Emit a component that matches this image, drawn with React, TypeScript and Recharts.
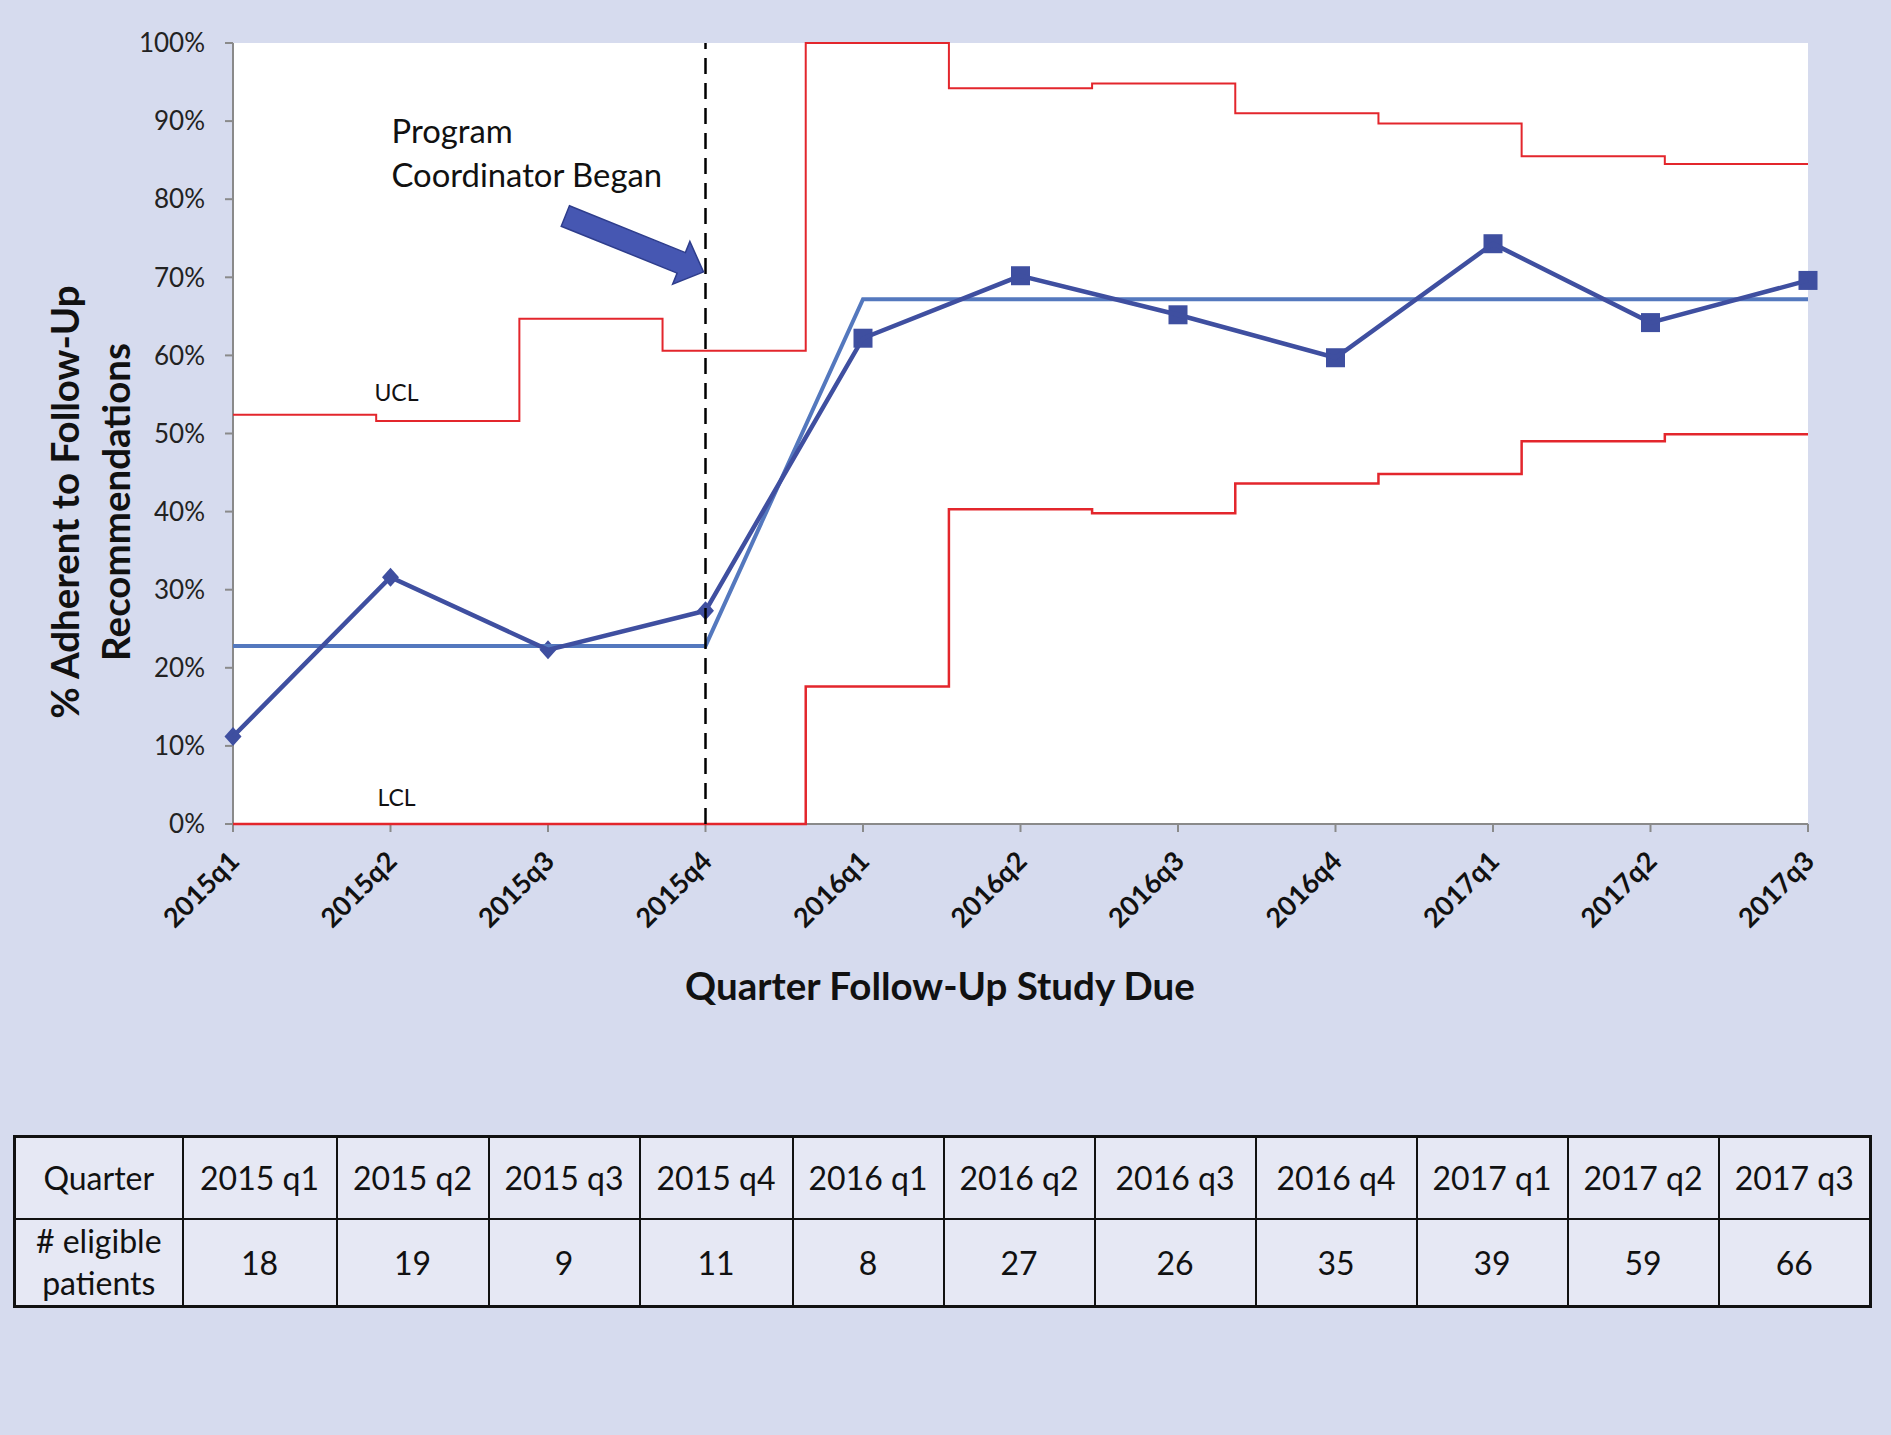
import React from 'react';
import {
  ComposedChart,
  Line,
  XAxis,
  YAxis,
  CartesianGrid,
  ReferenceLine,
  ReferenceDot,
} from 'recharts';

// ---------- data ----------
const quarters = ['2015q1', '2015q2', '2015q3', '2015q4', '2016q1', '2016q2', '2016q3', '2016q4', '2017q1', '2017q2', '2017q3'];
const adherence = [11.2, 31.6, 22.3, 27.3, 62.2, 70.2, 65.2, 59.7, 74.3, 64.2, 69.6];
const centerLine = [22.8, 22.8, 22.8, 22.8, 67.2, 67.2, 67.2, 67.2, 67.2, 67.2, 67.2];
const upperLimit = [52.4, 51.6, 64.7, 60.6, 100, 94.2, 94.8, 91.0, 89.7, 85.5, 84.5];
const lowerLimit = [0, 0, 0, 0, 17.6, 40.3, 39.8, 43.6, 44.8, 49.0, 49.9];
const yTicks = [0, 10, 20, 30, 40, 50, 60, 70, 80, 90, 100];
const tableQuarters = ['2015 q1', '2015 q2', '2015 q3', '2015 q4', '2016 q1', '2016 q2', '2016 q3', '2016 q4', '2017 q1', '2017 q2', '2017 q3'];
const eligiblePatients = [18, 19, 9, 11, 8, 27, 26, 35, 39, 59, 66];
const coordinatorStartIndex = 3;
const arrowTargetValue = 70.7;
const uclLabelValue = 54.1;
const lclLabelValue = 2.3;

const pointData = quarters.map((q, i) => ({ x: i, label: q, adherence: adherence[i], center: centerLine[i] }));
const lastIdx = upperLimit.length - 1;
const limitData = [
  ...upperLimit.map((u, k) => ({ b: k, ucl: u, lcl: lowerLimit[k] })),
  { b: upperLimit.length, ucl: upperLimit[lastIdx], lcl: lowerLimit[lastIdx] },
];
const xTicks = quarters.map((_, i) => i);

// ---------- style ----------
const FONT = 'Lato, "Open Sans", sans-serif';
const BG = '#D6DBEE';
const CELL_BG = '#E6E8F4';
const DARK_BLUE = '#3F4FA0';
const CL_BLUE = '#5478BE';
const RED = '#E3262C';
const AXIS_GRAY = '#8A8A8A';
const colWidths = [168, 154, 152, 151, 153, 151, 151, 161, 161, 151, 151, 152];

const XTick = (props: any) => {
  const { x, y, payload } = props;
  const ax = x + 8;
  const ay = y + 31;
  return (
    <text
      x={ax}
      y={ay}
      transform={`rotate(-45 ${ax} ${ay})`}
      textAnchor="end"
      fontFamily={FONT}
      fontWeight={700}
      fontSize={27}
      fill="#111"
    >
      {quarters[payload.value]}
    </text>
  );
};

const YTitle = (props: any) => {
  const vb = props.viewBox || { x: 0, y: 43, width: 233, height: 781 };
  const cy = vb.y + 459;
  const x1 = vb.x + 64;
  const x2 = vb.x + 115;
  const common = {
    textAnchor: 'middle' as const,
    dominantBaseline: 'central' as const,
    fontFamily: FONT,
    fontWeight: 700,
    fontSize: 38.5,
    fill: '#111',
  };
  return (
    <g>
      <text x={x1} y={cy} transform={`rotate(-90 ${x1} ${cy})`} {...common}>
        % Adherent to Follow-Up
      </text>
      <text x={x2} y={cy} transform={`rotate(-90 ${x2} ${cy})`} {...common}>
        Recommendations
      </text>
    </g>
  );
};

const XTitle = (props: any) => {
  const vb = props.viewBox || { x: 233, y: 824, width: 1575, height: 236 };
  return (
    <text
      x={vb.x + 707}
      y={vb.y + 176}
      textAnchor="middle"
      fontFamily={FONT}
      fontWeight={700}
      fontSize={38.5}
      fill="#111"
    >
      Quarter Follow-Up Study Due
    </text>
  );
};

const renderMarker = (props: any) => {
  const { cx, cy, index } = props;
  if (cx == null || cy == null) return <g key={`m-${index}`} />;
  if (index <= coordinatorStartIndex) {
    return (
      <polygon
        key={`m-${index}`}
        points={`${cx},${cy - 9.5} ${cx + 8.5},${cy} ${cx},${cy + 9.5} ${cx - 8.5},${cy}`}
        fill={DARK_BLUE}
      />
    );
  }
  return <rect key={`m-${index}`} x={cx - 9.5} y={cy - 9.5} width={19} height={19} fill={DARK_BLUE} />;
};

const ArrowShape = (props: any) => {
  const { cx, cy } = props;
  if (cx == null || cy == null) return <g />;
  const tx = cx - 2;
  const pts = '0,0 -24,-23 -24,-11 -149,-11 -149,11 -24,11 -24,23';
  return (
    <g>
      <polygon
        points={pts}
        transform={`translate(${tx} ${cy}) rotate(22)`}
        fill="#4657B2"
        stroke="#2E3D8C"
        strokeWidth={1.5}
      />
      <text x={cx - 314} y={cy - 129} fontFamily={FONT} fontSize={32.8} fill="#111">
        Program
      </text>
      <text x={cx - 314} y={cy - 85} fontFamily={FONT} fontSize={32.8} fill="#111">
        Coordinator Began
      </text>
    </g>
  );
};

const makeTextShape = (txt: string) => (props: any) => {
  const { cx, cy } = props;
  if (cx == null || cy == null) return <g />;
  return (
    <text x={cx + 6} y={cy} textAnchor="middle" fontFamily={FONT} fontSize={23} fill="#111">
      {txt}
    </text>
  );
};

const cellStyle: React.CSSProperties = {
  border: '2px solid #111',
  background: CELL_BG,
  textAlign: 'center',
  verticalAlign: 'middle',
  fontFamily: FONT,
  fontSize: 32,
  color: '#111',
  padding: 0,
};

export default function App() {
  return (
    <div
      style={{
        position: 'absolute',
        left: 0,
        top: 0,
        width: 1891,
        height: 1435,
        background: BG,
        overflow: 'hidden',
      }}
    >
      <div style={{ position: 'absolute', left: 0, top: 0 }}>
        <ComposedChart width={1891} height={1060} margin={{ top: 43, right: 83, left: 0, bottom: 0 }}>
          <CartesianGrid xAxisId="q" fill="#ffffff" horizontal={false} vertical={false} />
          <XAxis
            xAxisId="q"
            type="number"
            dataKey="x"
            domain={[0, 10]}
            ticks={xTicks}
            interval={0}
            tick={<XTick />}
            tickSize={8}
            tickMargin={0}
            tickLine={{ stroke: AXIS_GRAY, strokeWidth: 2 }}
            axisLine={{ stroke: AXIS_GRAY, strokeWidth: 2 }}
            height={236}
            label={<XTitle />}
          />
          <XAxis xAxisId="b" type="number" dataKey="b" domain={[0, 11]} hide height={0} />
          <YAxis
            type="number"
            domain={[0, 100]}
            ticks={yTicks}
            interval={0}
            tickFormatter={(v: number) => `${v}%`}
            tick={{ fontFamily: FONT, fontSize: 26, fill: '#222' }}
            tickSize={8}
            tickMargin={20}
            tickLine={{ stroke: AXIS_GRAY, strokeWidth: 2 }}
            axisLine={{ stroke: AXIS_GRAY, strokeWidth: 2 }}
            width={233}
            label={<YTitle />}
          />
          <Line
            xAxisId="b"
            data={limitData}
            dataKey="ucl"
            type="stepAfter"
            stroke={RED}
            strokeWidth={2}
            dot={false}
            activeDot={false}
            isAnimationActive={false}
            zIndex={600}
          />
          <Line
            xAxisId="b"
            data={limitData}
            dataKey="lcl"
            type="stepAfter"
            stroke={RED}
            strokeWidth={2.5}
            dot={false}
            activeDot={false}
            isAnimationActive={false}
            zIndex={600}
          />
          <Line
            xAxisId="q"
            data={pointData}
            dataKey="center"
            type="linear"
            stroke={CL_BLUE}
            strokeWidth={4}
            dot={false}
            activeDot={false}
            isAnimationActive={false}
            zIndex={610}
          />
          <Line
            xAxisId="q"
            data={pointData}
            dataKey="adherence"
            type="linear"
            stroke={DARK_BLUE}
            strokeWidth={4.5}
            dot={renderMarker}
            activeDot={false}
            isAnimationActive={false}
            zIndex={620}
          />
          <ReferenceLine
            xAxisId="q"
            x={coordinatorStartIndex}
            stroke="#000"
            strokeWidth={2.5}
            strokeDasharray="16 9"
            zIndex={630}
          />
          <ReferenceDot xAxisId="q" x={coordinatorStartIndex} y={arrowTargetValue} shape={ArrowShape} zIndex={640} />
          <ReferenceDot xAxisId="q" x={1} y={uclLabelValue} shape={makeTextShape('UCL')} zIndex={640} />
          <ReferenceDot xAxisId="q" x={1} y={lclLabelValue} shape={makeTextShape('LCL')} zIndex={640} />
        </ComposedChart>
      </div>
      <table
        style={{
          position: 'absolute',
          left: 13,
          top: 1135,
          borderCollapse: 'collapse',
          border: '3px solid #111',
          tableLayout: 'fixed',
          width: 1856,
        }}
      >
        <colgroup>
          {colWidths.map((w, i) => (
            <col key={i} style={{ width: w }} />
          ))}
        </colgroup>
        <tbody>
          <tr style={{ height: 82 }}>
            <td style={cellStyle}>Quarter</td>
            {tableQuarters.map((q) => (
              <td key={q} style={cellStyle}>
                {q}
              </td>
            ))}
          </tr>
          <tr style={{ height: 88 }}>
            <td style={{ ...cellStyle, lineHeight: '42px' }}>
              # eligible
              <br />
              patients
            </td>
            {eligiblePatients.map((n, i) => (
              <td key={i} style={cellStyle}>
                {n}
              </td>
            ))}
          </tr>
        </tbody>
      </table>
    </div>
  );
}
